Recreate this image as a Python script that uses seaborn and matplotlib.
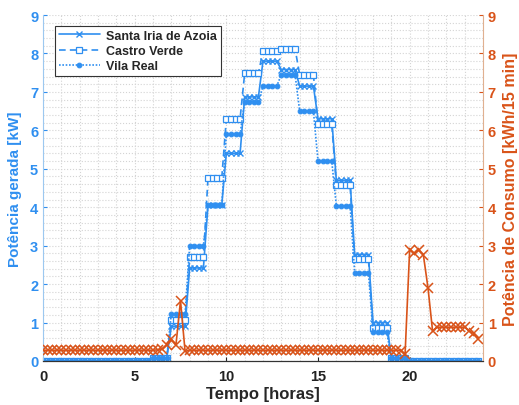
import numpy as np
import pandas as pd
import seaborn as sns
import matplotlib
matplotlib.use("Agg")
import matplotlib.pyplot as plt
from matplotlib.ticker import MultipleLocator

sns.set_style("ticks")
plt.rcParams['font.family'] = ['Liberation Sans', 'DejaVu Sans']
plt.rcParams['font.weight'] = 'bold'

# generated power, one value per hour (each hour = four 15 min samples)
santa_iria = [0, 0, 0, 0, 0, 0, 0.08, 0.9, 2.42, 4.05, 5.4, 6.87,
              7.8, 7.58, 7.15, 6.3, 4.7, 2.77, 1.0, 0.08, 0, 0, 0, 0]
castro_verde = [0, 0, 0, 0, 0, 0, 0.08, 1.07, 2.7, 4.76, 6.3, 7.48,
                8.07, 8.12, 7.45, 6.17, 4.57, 2.65, 0.87, 0.08, 0, 0, 0, 0]
vila_real = [0, 0, 0, 0, 0, 0, 0.08, 1.23, 3.0, 4.05, 5.9, 6.75,
             7.15, 7.45, 6.5, 5.2, 4.04, 2.3, 0.75, 0.08, 0, 0, 0, 0]

# consumption, every 15 min
consumo = [0.28, 0.28, 0.28, 0.28, 0.28, 0.28, 0.28, 0.28,
           0.28, 0.28, 0.28, 0.28, 0.28, 0.28, 0.28, 0.28,
           0.28, 0.28, 0.28, 0.28, 0.28, 0.28, 0.28, 0.28,
           0.28, 0.29, 0.32, 0.41, 0.57, 0.41, 1.57, 0.25,
           0.28, 0.28, 0.28, 0.28, 0.28, 0.28, 0.28, 0.28,
           0.28, 0.28, 0.28, 0.28, 0.28, 0.28, 0.28, 0.28,
           0.28, 0.28, 0.28, 0.28, 0.28, 0.28, 0.28, 0.28,
           0.28, 0.28, 0.28, 0.28, 0.28, 0.28, 0.28, 0.28,
           0.28, 0.28, 0.28, 0.28, 0.28, 0.28, 0.28, 0.28,
           0.28, 0.28, 0.28, 0.28, 0.28, 0.28, 0.27, 0.18,
           2.9, 2.8, 2.9, 2.75, 1.9, 0.78, 0.88, 0.88,
           0.88, 0.88, 0.88, 0.88, 0.88, 0.78, 0.72, 0.57]

t = np.arange(96) * 0.25
blue = '#2f8ff0'
orange = '#d95319'

fig, ax = plt.subplots(figsize=(5.19, 4.06), dpi=100)
fig.subplots_adjust(left=43/519, right=483/519, top=1-16/406, bottom=1-362/406)

sns.lineplot(x=t, y=np.repeat(santa_iria, 4), ax=ax, color=blue, lw=1.2,
             linestyle='-', marker='x', ms=4.5, mec=blue, mew=1,
             label='Santa Iria de Azoia')
sns.lineplot(x=t, y=np.repeat(castro_verde, 4), ax=ax, color=blue, lw=1.2,
             linestyle=(0, (4, 2.5)), marker='s', ms=4.5, mfc='white', mec=blue,
             mew=0.9, label='Castro Verde')
sns.lineplot(x=t, y=np.repeat(vila_real, 4), ax=ax, color=blue, lw=1.2,
             linestyle=(0, (1, 1)), marker='o', ms=3.4, mfc=blue, mec=blue,
             label='Vila Real')

ax2 = ax.twinx()
sns.lineplot(x=t, y=consumo, ax=ax2, color=orange, lw=1.2, marker='x',
             ms=6.5, mec=orange, mew=1.1, legend=False)

for a in (ax, ax2):
    a.set_xlim(0, 24)
    a.set_ylim(0, 9)
    a.yaxis.set_major_locator(MultipleLocator(1))
    a.spines['top'].set_visible(False)

ax.xaxis.set_major_locator(MultipleLocator(5))
ax.xaxis.set_minor_locator(MultipleLocator(1))
ax.yaxis.set_minor_locator(MultipleLocator(0.2))
ax.grid(which='both', linestyle=':', color='#d4d4d4', lw=0.8)
ax.set_axisbelow(True)

ax.tick_params(axis='both', which='major', direction='in', labelsize=10.5, length=3)
ax.tick_params(axis='x', pad=6)
ax.tick_params(axis='both', which='minor', length=0)
ax.tick_params(axis='y', colors=blue)
ax.tick_params(axis='x', colors='#222222')
ax2.tick_params(axis='y', direction='in', labelsize=10.5, length=3, colors=orange)
ax.spines['left'].set_color('#9cc8f0')
ax.spines['right'].set_visible(False)
ax2.spines['left'].set_visible(False)
ax2.spines['right'].set_color('#e0b090')
ax2.spines['bottom'].set_color('#333333')

ax.set_xlabel('Tempo [horas]', fontsize=12, fontweight='bold', labelpad=2)
ax.set_ylabel('Potência gerada [kW]', fontsize=11, fontweight='bold', color=blue, labelpad=6)
ax2.set_ylabel('Potência de Consumo [kWh/15 min]', fontsize=11.5, fontweight='bold',
               color=orange, labelpad=5)

leg = ax.legend(loc='upper left', bbox_to_anchor=(0.027, 0.968), borderaxespad=0,
                fontsize=9, handlelength=3.3, frameon=True, fancybox=False,
                borderpad=0.3, labelspacing=0.25, handletextpad=0.5)
leg.get_frame().set_edgecolor('#333333')
leg.get_frame().set_linewidth(0.8)
leg.get_frame().set_alpha(1)
for txt in leg.get_texts():
    txt.set_fontweight('bold')

fig.savefig('out.png', dpi=100)
